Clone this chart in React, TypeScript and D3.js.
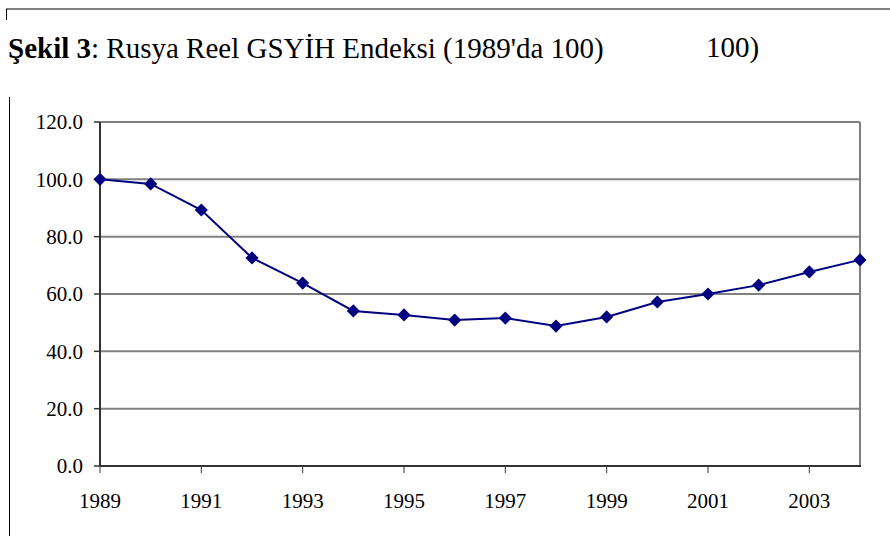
import React from "react";
import * as d3 from "d3";

const years = [1989, 1990, 1991, 1992, 1993, 1994, 1995, 1996, 1997, 1998, 1999, 2000, 2001, 2002, 2003, 2004];
const gdpIndex = [100.0, 98.4, 89.3, 72.6, 63.8, 54.1, 52.7, 50.9, 51.6, 48.8, 52.0, 57.2, 60.0, 63.1, 67.7, 71.9];
const yTicks = [0, 20, 40, 60, 80, 100, 120];
const xTickYears = [1989, 1991, 1993, 1995, 1997, 1999, 2001, 2003];

const W = 890, H = 536;
const left = 100, right = 860, top = 122, bottom = 466;

export default function App() {
  const x = d3.scaleLinear().domain([1989, 2004]).range([left, right]);
  const y = d3.scaleLinear().domain([0, 120]).range([bottom, top]);
  const line = d3.line<number>().x((_, i) => x(years[i])).y((d) => y(d));
  const diamond = d3.symbol().type(d3.symbolDiamond2).size(110)();
  const font = "'Liberation Serif', 'Times New Roman', serif";
  return (
    <svg width={W} height={H} style={{ position: "absolute", left: 0, top: 0, background: "#fff" }} fontFamily={font}>
      <line x1={6} x2={890} y1={9} y2={9} stroke="#000" strokeWidth={1} />
      <line x1={6.5} x2={6.5} y1={9} y2={20} stroke="#000" strokeWidth={1} />
      <line x1={9.5} x2={9.5} y1={97} y2={536} stroke="#000" strokeWidth={1} />
      <text x={8} y={58} fontSize={29} fill="#000">
        <tspan fontWeight="bold">Şekil 3</tspan>
        <tspan>: Rusya Reel GSYİH Endeksi (1989'da 100)</tspan>
      </text>
      <text x={706} y={57} fontSize={29} fill="#000">100)</text>
      {yTicks.filter((t) => t > 0).map((t) => (
        <line key={t} x1={left} x2={right} y1={y(t)} y2={y(t)} stroke="#808080" strokeWidth={2} />
      ))}
      <line x1={right} x2={right} y1={top} y2={bottom} stroke="#808080" strokeWidth={2} />
      <line x1={left} x2={left} y1={top} y2={bottom} stroke="#333" strokeWidth={2} />
      <line x1={left} x2={right + 1} y1={bottom} y2={bottom} stroke="#333" strokeWidth={2} />
      {yTicks.map((t) => (
        <g key={t}>
          <line x1={left - 6} x2={left} y1={y(t)} y2={y(t)} stroke="#333" strokeWidth={1.5} />
          <text x={83} y={y(t)} dy="0.35em" textAnchor="end" fontSize={21} fill="#000">{t.toFixed(1)}</text>
        </g>
      ))}
      {xTickYears.map((yr) => (
        <g key={yr}>
          <line x1={x(yr)} x2={x(yr)} y1={bottom} y2={bottom + 7} stroke="#333" strokeWidth={1} />
          <text x={x(yr)} y={508} textAnchor="middle" fontSize={21} fill="#000">{yr}</text>
        </g>
      ))}
      <path d={line(gdpIndex) || ""} fill="none" stroke="#000080" strokeWidth={2} />
      {gdpIndex.map((v, i) => (
        <path key={i} d={diamond || ""} transform={`translate(${x(years[i])},${y(v)})`} fill="#000080" />
      ))}
    </svg>
  );
}
